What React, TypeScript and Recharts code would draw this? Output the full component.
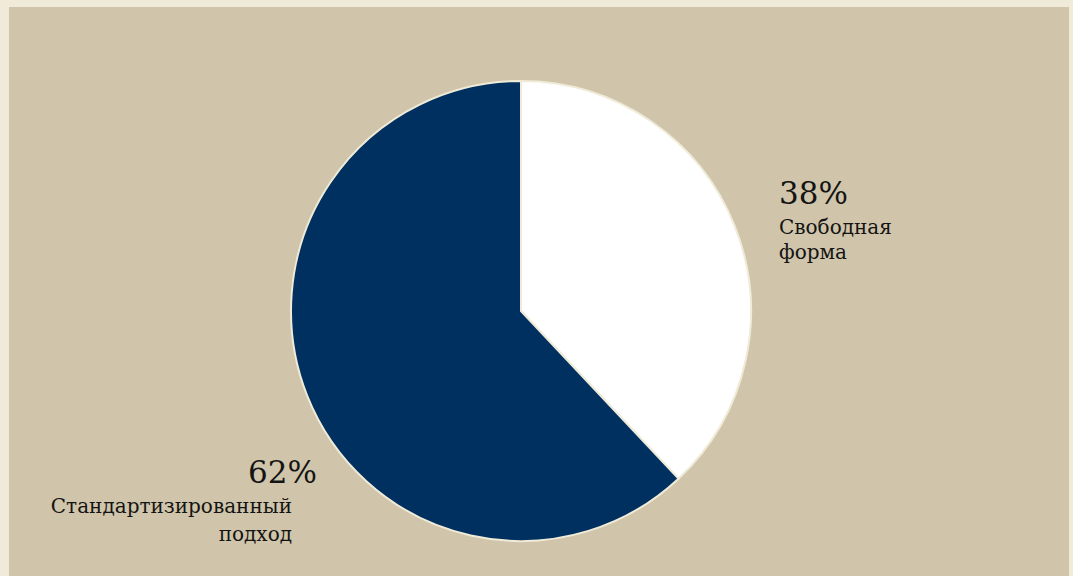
import React from "react";
import { PieChart, Pie, Cell } from "recharts";

const categories = ["Свободная форма", "Стандартизированный подход"];
const values = [38, 62];
const percentLabels = ["38%", "62%"];
const labelLines = [["Свободная", "форма"], ["Стандартизированный", "подход"]];
const colors = ["#ffffff", "#00305f"];

const data = categories.map((name, i) => ({ name, value: values[i] }));

const FONT = "'DejaVu Serif', 'Liberation Serif', serif";
const TXT = "#141414";

const renderLabel = (props: any) => {
  const { cx, cy, outerRadius, index } = props;
  if (index === 0) {
    const x = cx + outerRadius + 28;
    return (
      <g>
        <text x={x} y={cy - 107} fill={TXT} fontSize={31} fontFamily={FONT} textAnchor="start">
          {percentLabels[0]}
        </text>
        <text x={x} y={cy - 77} fill={TXT} fontSize={20} fontFamily={FONT} textAnchor="start">
          {labelLines[0][0]}
        </text>
        <text x={x} y={cy - 52} fill={TXT} fontSize={20} fontFamily={FONT} textAnchor="start">
          {labelLines[0][1]}
        </text>
      </g>
    );
  }
  return (
    <g>
      <text x={cx - 204} y={cy + 172} fill={TXT} fontSize={31} fontFamily={FONT} textAnchor="end">
        {percentLabels[1]}
      </text>
      <text x={cx - 229} y={cy + 202} fill={TXT} fontSize={20} fontFamily={FONT} textAnchor="end">
        {labelLines[1][0]}
      </text>
      <text x={cx - 229} y={cy + 230} fill={TXT} fontSize={20} fontFamily={FONT} textAnchor="end">
        {labelLines[1][1]}
      </text>
    </g>
  );
};

export default function App() {
  return (
    <div style={{ position: "absolute", left: 0, top: 0, width: 1073, height: 576, background: "#efebd8", overflow: "hidden" }}>
      <div style={{ position: "absolute", left: 9, top: 7, width: 1060, height: 569, background: "#d0c5aa" }}>
        <PieChart width={1060} height={569} margin={{ top: 0, right: 0, bottom: 0, left: 0 }}>
          <Pie
            data={data}
            dataKey="value"
            nameKey="name"
            cx={512}
            cy={304}
            outerRadius={230}
            startAngle={90}
            endAngle={-270}
            stroke="#efebd8"
            strokeWidth={2}
            label={renderLabel}
            labelLine={false}
            isAnimationActive={false}
          >
            {data.map((d, i) => (
              <Cell key={d.name} fill={colors[i]} />
            ))}
          </Pie>
        </PieChart>
      </div>
    </div>
  );
}
